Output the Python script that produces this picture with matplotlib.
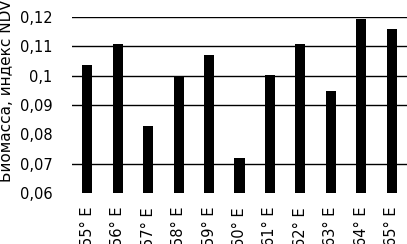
import matplotlib
matplotlib.use("Agg")
import matplotlib.pyplot as plt

categories = ["55° E", "56° E", "57° E", "58° E", "59° E", "60° E",
              "61° E", "62° E", "63° E", "64° E", "65° E"]
values = [0.1036, 0.1109, 0.0828, 0.1000, 0.1070, 0.0719,
          0.1002, 0.1109, 0.0949, 0.1193, 0.1159]
yticks = [0.06, 0.07, 0.08, 0.09, 0.10, 0.11, 0.12]
ytick_labels = ["0,06", "0,07", "0,08", "0,09", "0,1", "0,11", "0,12"]
grid_values = [0.07, 0.09, 0.10, 0.11, 0.12]

plt.rcParams['font.family'] = ['DejaVu Sans']
fig = plt.figure(figsize=(4.07, 2.44), dpi=100)
ax = fig.add_axes([72/407, 1-193/244, 1-72/407, (193-17)/244])

for g in grid_values:
    ax.axhline(g, color='black', lw=1.0, zorder=0)

x = list(range(len(categories)))
ax.bar(x, [v - 0.06 for v in values], bottom=0.06, width=0.33, color='black', zorder=2)

ax.set_xlim(-0.5, 10.5)
ax.set_ylim(0.06, 0.12)
ax.set_yticks(yticks)
ax.set_yticklabels(ytick_labels, fontsize=10.5)
ax.set_xticks(x)
ax.set_xticklabels(categories, rotation=90, fontsize=10.5, va='top')
ax.tick_params(axis='y', length=0, pad=14)
ax.tick_params(axis='x', length=0, pad=10)
for s in ax.spines.values():
    s.set_visible(False)

fig.text(7/407, 1-182/244, "Биомасса, индекс NDVI", rotation=90, fontsize=11,
         ha='center', va='bottom')

fig.savefig("out.png", dpi=100)
